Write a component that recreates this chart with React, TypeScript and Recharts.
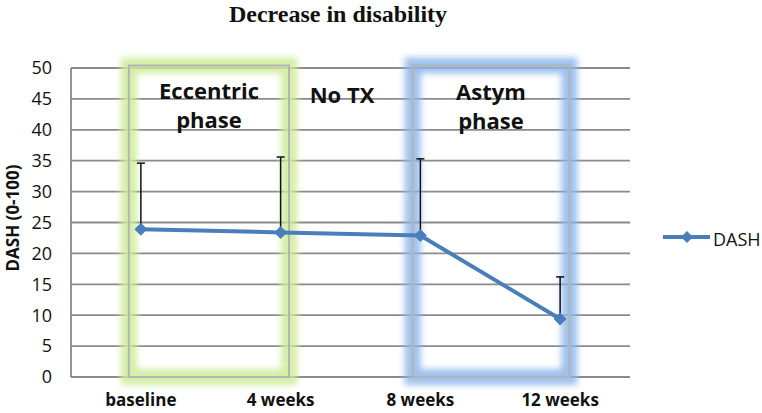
import React from "react";
import {
  LineChart,
  Line,
  XAxis,
  YAxis,
  CartesianGrid,
  ErrorBar,
  ReferenceArea,
} from "recharts";

const categories = ["baseline", "4 weeks", "8 weeks", "12 weeks"];
const dashValues = [23.9, 23.4, 22.9, 9.4];
const dashErrUp = [10.7, 12.2, 12.4, 6.8];
const yTicks = [0, 5, 10, 15, 20, 25, 30, 35, 40, 45, 50];

const data = categories.map((c, i) => ({
  idx: i,
  label: c,
  dash: dashValues[i],
  err: [0, dashErrUp[i]],
}));

const blue = "#4a7ebb";
const grid = "#8a8a8a";
const sans = "'Open Sans', 'Liberation Sans', sans-serif";

function GlowBox(props: any) {
  const { x, y, width, height, glow } = props;
  if (x == null || y == null) return null;
  return (
    <g>
      <rect
        x={x}
        y={y}
        width={width}
        height={height}
        fill="none"
        stroke={glow}
        strokeWidth={16}
        strokeOpacity={0.85}
        filter="url(#softGlow)"
      />
      <rect x={x} y={y} width={width} height={height} fill="none" stroke="#b4b4b4" strokeWidth={2} />
    </g>
  );
}

function Diamond(props: any) {
  const { cx, cy, index } = props;
  if (cx == null || cy == null) return <g key={`d-${index}`} />;
  const r = 6.5;
  return (
    <path
      key={`d-${index}`}
      d={`M${cx},${cy - r}L${cx + r},${cy}L${cx},${cy + r}L${cx - r},${cy}Z`}
      fill={blue}
    />
  );
}

export default function App() {
  return (
    <div style={{ position: "absolute", left: 0, top: 0, width: 762, height: 413, background: "#fff" }}>
      <LineChart
        width={762}
        height={413}
        data={data}
        margin={{ top: 68, right: 132, bottom: 0, left: 21 }}
        style={{ fontFamily: sans }}
      >
        <defs>
          <filter id="softGlow" x="-20%" y="-20%" width="140%" height="140%">
            <feGaussianBlur stdDeviation="3" />
          </filter>
        </defs>
        <CartesianGrid vertical={false} stroke={grid} strokeWidth={1.8} />
        <ReferenceArea
          x1={-0.086}
          x2={1.06}
          y1={0}
          y2={50.4}
          ifOverflow="visible"
          shape={(p: any) => <GlowBox {...p} glow="#cdeb97" />}
        />
        <ReferenceArea
          x1={1.945}
          x2={3.066}
          y1={0}
          y2={50.4}
          ifOverflow="visible"
          shape={(p: any) => <GlowBox {...p} glow="#8db6ea" />}
        />
        <XAxis
          dataKey="idx"
          type="number"
          domain={[-0.5, 3.5]}
          ticks={[0, 1, 2, 3]}
          tickFormatter={(v: number) => categories[v]}
          axisLine={false}
          tickLine={false}
          tickMargin={11}
          height={36}
          tick={{ fontSize: 17, fontWeight: 700, fill: "#111", fontFamily: sans }}
        />
        <YAxis
          domain={[0, 50]}
          ticks={yTicks}
          width={50}
          axisLine={{ stroke: grid, strokeWidth: 1.8 }}
          tickLine={false}
          tickMargin={13}
          tick={{ fontSize: 18, fill: "#111", fontFamily: sans }}
        />
        <Line
          dataKey="dash"
          stroke={blue}
          strokeWidth={4}
          dot={(p: any) => <Diamond {...p} />}
          activeDot={false}
          isAnimationActive={false}
        >
          <ErrorBar dataKey="err" direction="y" width={4} stroke="#111" strokeWidth={1.5} />
        </Line>
        <text x={338} y={22} textAnchor="middle" fontFamily="'Liberation Serif', serif" fontWeight={700} fontSize={24} fill="#111">
          Decrease in disability
        </text>
        <text
          transform="translate(19,218) rotate(-90)"
          textAnchor="middle"
          fontFamily={sans}
          fontWeight={700}
          fontSize={17}
          fill="#111"
        >
          DASH (0-100)
        </text>
        <g fontFamily={sans} fontWeight={700} fontSize={22} fill="#111" textAnchor="middle">
          <text x={209} y={99}>Eccentric</text>
          <text x={209} y={128}>phase</text>
          <text x={342} y={103}>No TX</text>
          <text x={491} y={100}>Astym</text>
          <text x={491} y={129}>phase</text>
        </g>
        <g>
          <line x1={663} y1={237} x2={710} y2={237} stroke={blue} strokeWidth={4} />
          <path d="M687,231L693,237L687,243L681,237Z" fill={blue} />
          <text x={713} y={246} fontFamily={sans} fontSize={18} fill="#111">
            DASH
          </text>
        </g>
      </LineChart>
    </div>
  );
}
